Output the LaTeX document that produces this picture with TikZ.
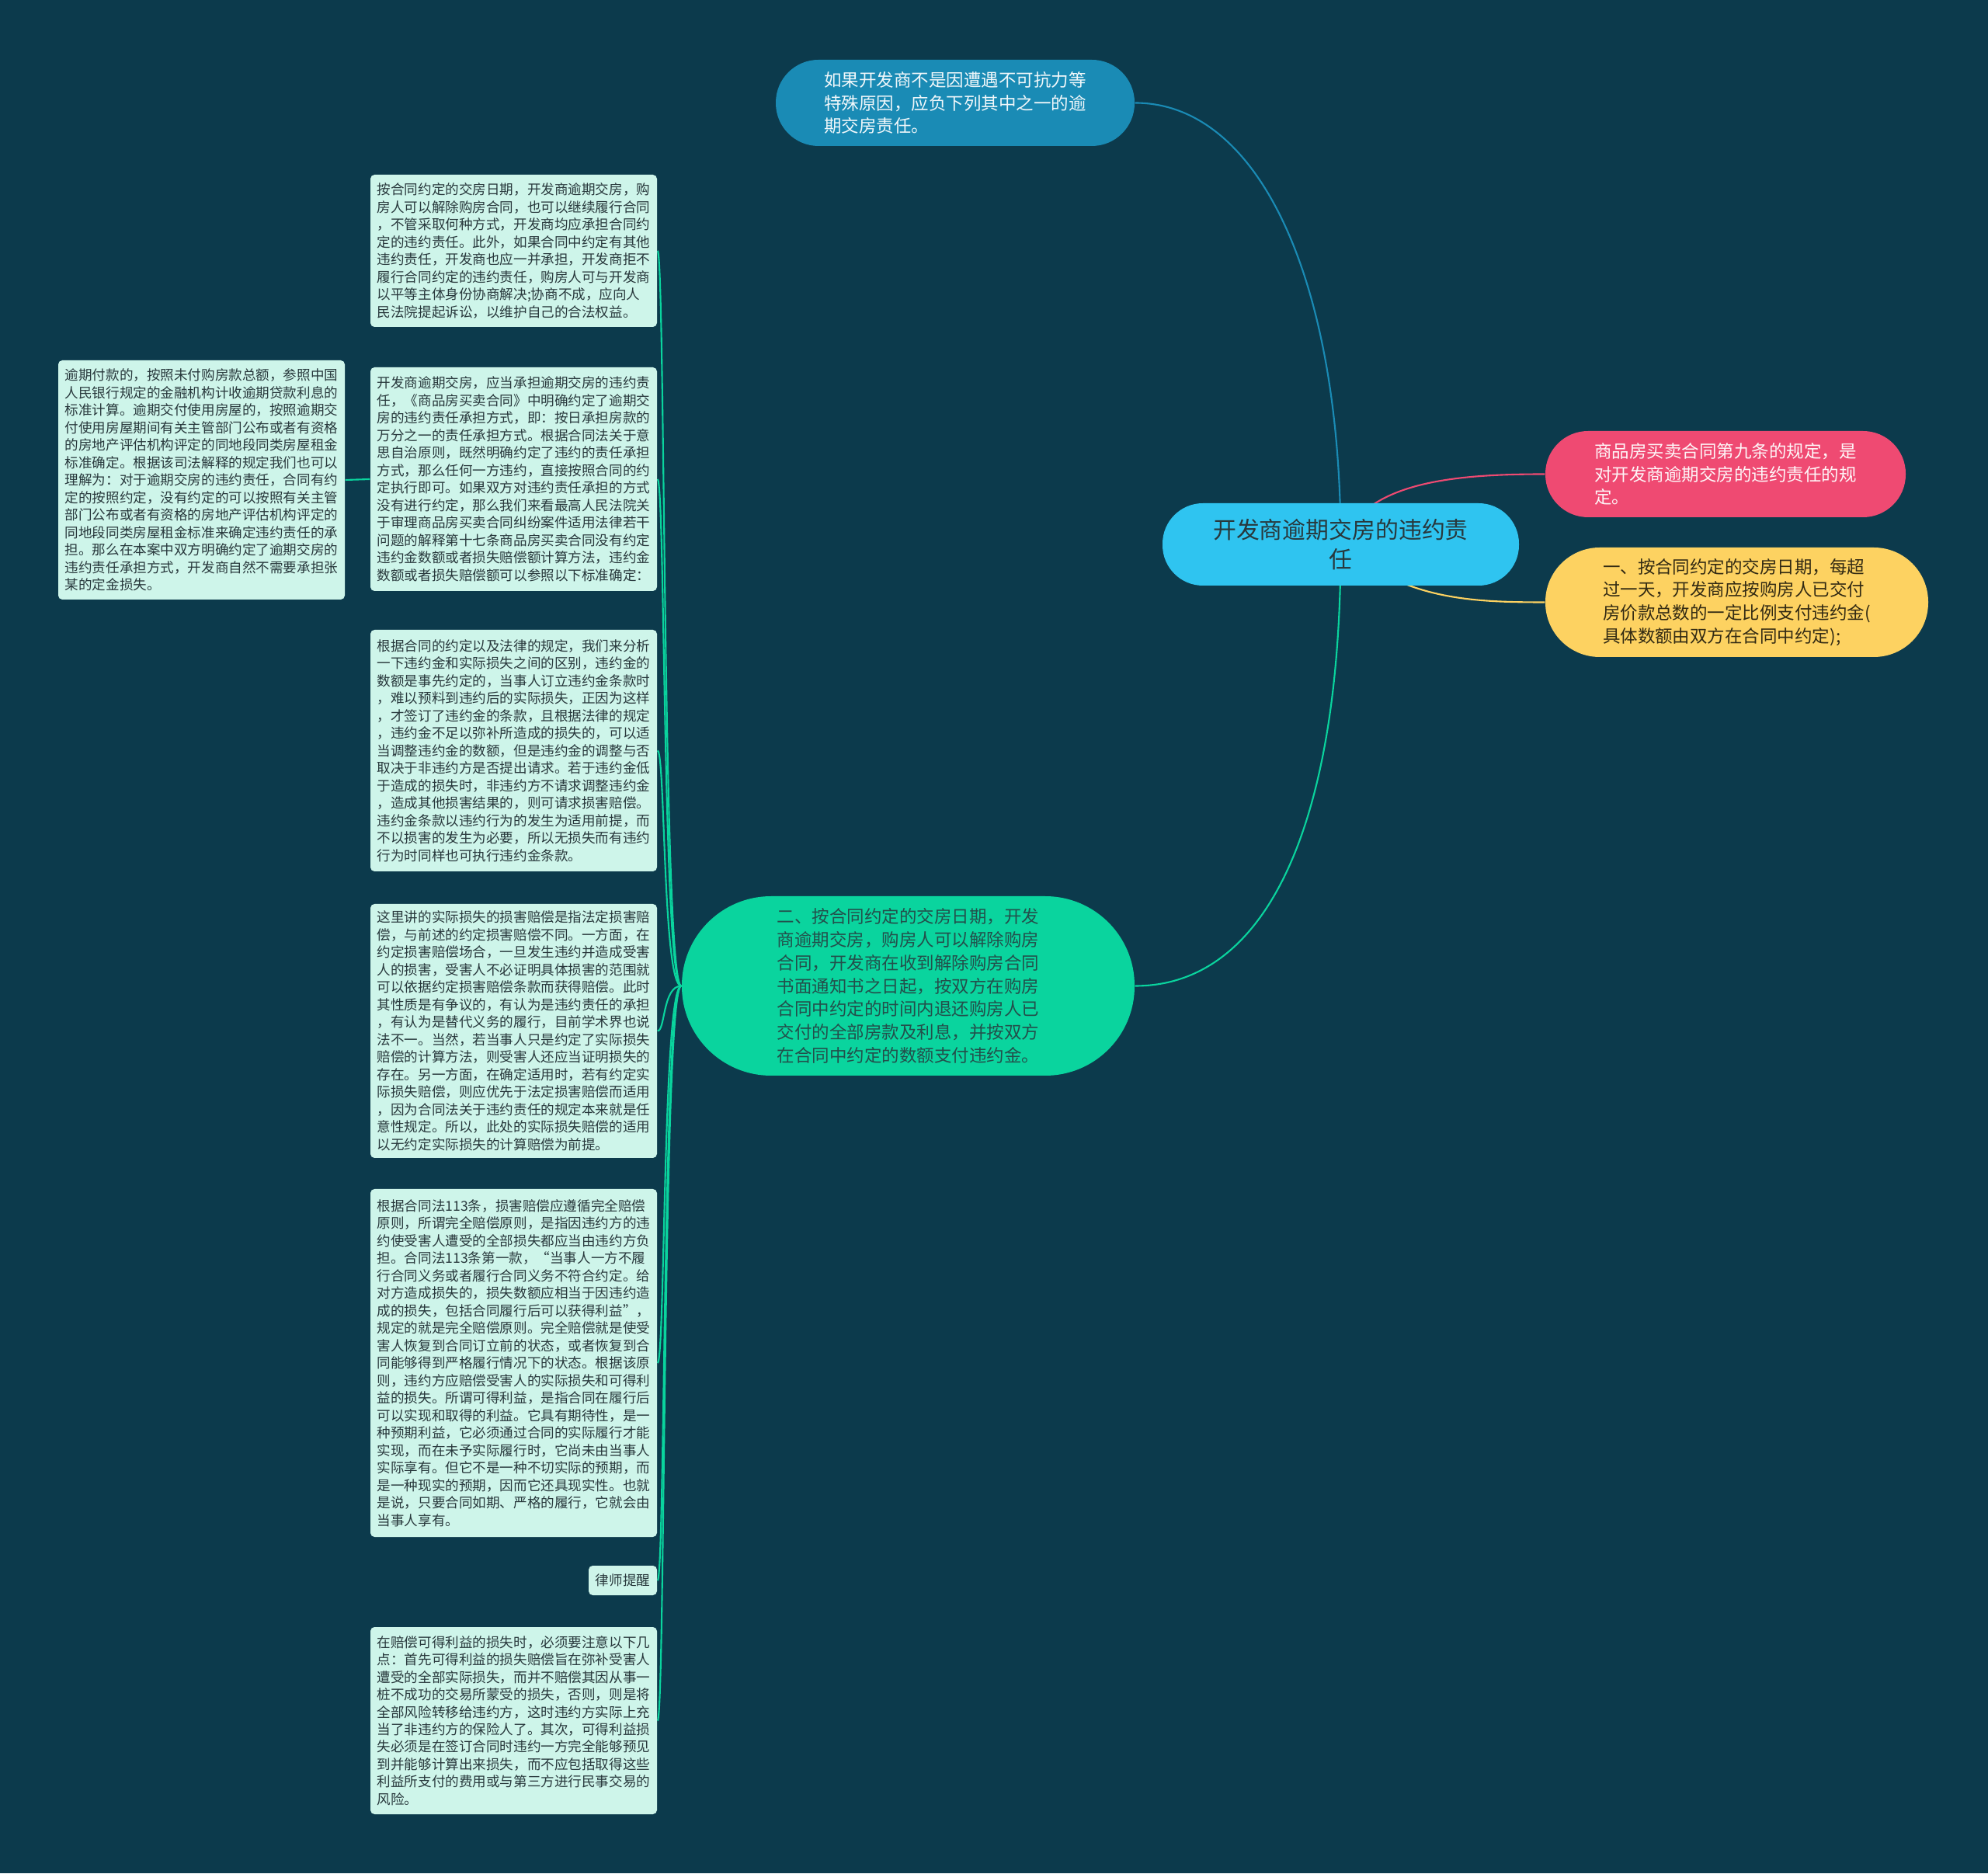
\documentclass[tikz,border=0pt]{standalone}
\usepackage{fontspec}
\setmainfont{Noto Sans CJK SC}
\usepackage{xcolor}
\usepackage{tikz}
\usetikzlibrary{backgrounds}

\definecolor{canvas}{RGB}{12,58,76}
\definecolor{topc}{RGB}{26,139,181}
\definecolor{rootc}{RGB}{47,196,240}
\definecolor{redc}{RGB}{239,74,114}
\definecolor{yelc}{RGB}{253,210,97}
\definecolor{grnc}{RGB}{10,212,158}
\definecolor{leafc}{RGB}{206,245,234}
\definecolor{inkc}{RGB}{40,56,60}

\begin{document}
\begin{tikzpicture}[
  pill/.style={fill=#1, align=left, inner sep=0pt, font=\fontsize{6.4}{8.5}\selectfont},
  leaf/.style={fill=leafc, text=inkc, rounded corners=1.5pt, align=left, inner sep=0pt, minimum width=3.69cm, font=\fontsize{5}{6.4}\selectfont},
  link/.style={draw=#1, line width=0.6pt},
  link/.default=grnc,
]
\useasboundingbox (0,0) rectangle (25.6,24.12);

% ---- root and first level ----
\node[pill=rootc, text=inkc, align=center, minimum width=4.59cm, minimum height=1.06cm, rounded corners=0.52cm, font=\fontsize{8.5}{10.8}\selectfont] (root) at (17.265,17.11) {开发商逾期交房的违约责\\任};
\node[pill=topc, text=white!94!topc, minimum width=4.62cm, minimum height=1.11cm, rounded corners=0.55cm] (rule) at (12.30,22.795) {如果开发商不是因遭遇不可抗力等\\特殊原因，应负下列其中之一的逾\\期交房责任。};
\node[pill=redc, text=white!95!redc, minimum width=4.64cm, minimum height=1.11cm, rounded corners=0.55cm] (art9) at (22.22,18.015) {商品房买卖合同第九条的规定，是\\对开发商逾期交房的违约责任的规\\定。};
\node[pill=yelc, text=black!80!yelc, minimum width=4.93cm, minimum height=1.41cm, rounded corners=0.7cm] (pen) at (22.365,16.365) {一、按合同约定的交房日期，每超\\过一天，开发商应按购房人已交付\\房价款总数的一定比例支付违约金(\\具体数额由双方在合同中约定);};
\node[pill=grnc, text=inkc!85!grnc, minimum width=5.83cm, minimum height=2.31cm, rounded corners=1.15cm] (term) at (11.695,11.425) {二、按合同约定的交房日期，开发\\商逾期交房，购房人可以解除购房\\合同，开发商在收到解除购房合同\\书面通知书之日起，按双方在购房\\合同中约定的时间内退还购房人已\\交付的全部房款及利息，并按双方\\在合同中约定的数额支付违约金。};

% ---- leaves of the second item ----
\node[leaf, minimum height=1.96cm] (sue) at (6.615,20.89) {按合同约定的交房日期，开发商逾期交房，购\\房人可以解除购房合同，也可以继续履行合同\\，不管采取何种方式，开发商均应承担合同约\\定的违约责任。此外，如果合同中约定有其他\\违约责任，开发商也应一并承担，开发商拒不\\履行合同约定的违约责任，购房人可与开发商\\以平等主体身份协商解决;协商不成，应向人\\民法院提起诉讼，以维护自己的合法权益。};
\node[leaf, minimum height=2.88cm] (std) at (6.615,17.95) {开发商逾期交房，应当承担逾期交房的违约责\\任，《商品房买卖合同》中明确约定了逾期交\\房的违约责任承担方式，即：按日承担房款的\\万分之一的责任承担方式。根据合同法关于意\\思自治原则，既然明确约定了违约的责任承担\\方式，那么任何一方违约，直接按照合同的约\\定执行即可。如果双方对违约责任承担的方式\\没有进行约定，那么我们来看最高人民法院关\\于审理商品房买卖合同纠纷案件适用法律若干\\问题的解释第十七条商品房买卖合同没有约定\\违约金数额或者损失赔偿额计算方法，违约金\\数额或者损失赔偿额可以参照以下标准确定：};
\node[leaf, minimum height=3.08cm] (rate) at (2.595,17.94) {逾期付款的，按照未付购房款总额，参照中国\\人民银行规定的金融机构计收逾期贷款利息的\\标准计算。逾期交付使用房屋的，按照逾期交\\付使用房屋期间有关主管部门公布或者有资格\\的房地产评估机构评定的同地段同类房屋租金\\标准确定。根据该司法解释的规定我们也可以\\理解为：对于逾期交房的违约责任，合同有约\\定的按照约定，没有约定的可以按照有关主管\\部门公布或者有资格的房地产评估机构评定的\\同地段同类房屋租金标准来确定违约责任的承\\担。那么在本案中双方明确约定了逾期交房的\\违约责任承担方式，开发商自然不需要承担张\\某的定金损失。};
\node[leaf, minimum height=3.11cm] (liq) at (6.615,14.455) {根据合同的约定以及法律的规定，我们来分析\\一下违约金和实际损失之间的区别，违约金的\\数额是事先约定的，当事人订立违约金条款时\\，难以预料到违约后的实际损失，正因为这样\\，才签订了违约金的条款，且根据法律的规定\\，违约金不足以弥补所造成的损失的，可以适\\当调整违约金的数额，但是违约金的调整与否\\取决于非违约方是否提出请求。若于违约金低\\于造成的损失时，非违约方不请求调整违约金\\，造成其他损害结果的，则可请求损害赔偿。\\违约金条款以违约行为的发生为适用前提，而\\不以损害的发生为必要，所以无损失而有违约\\行为时同样也可执行违约金条款。};
\node[leaf, minimum height=3.27cm] (actual) at (6.615,10.845) {这里讲的实际损失的损害赔偿是指法定损害赔\\偿，与前述的约定损害赔偿不同。一方面，在\\约定损害赔偿场合，一旦发生违约并造成受害\\人的损害，受害人不必证明具体损害的范围就\\可以依据约定损害赔偿条款而获得赔偿。此时\\其性质是有争议的，有认为是违约责任的承担\\，有认为是替代义务的履行，目前学术界也说\\法不一。当然，若当事人只是约定了实际损失\\赔偿的计算方法，则受害人还应当证明损失的\\存在。另一方面，在确定适用时，若有约定实\\际损失赔偿，则应优先于法定损害赔偿而适用\\，因为合同法关于违约责任的规定本来就是任\\意性规定。所以，此处的实际损失赔偿的适用\\以无约定实际损失的计算赔偿为前提。};
\node[leaf, minimum height=4.48cm] (full) at (6.615,6.57) {根据合同法113条，损害赔偿应遵循完全赔偿\\原则，所谓完全赔偿原则，是指因违约方的违\\约使受害人遭受的全部损失都应当由违约方负\\担。合同法113条第一款，“当事人一方不履\\行合同义务或者履行合同义务不符合约定。给\\对方造成损失的，损失数额应相当于因违约造\\成的损失，包括合同履行后可以获得利益”，\\规定的就是完全赔偿原则。完全赔偿就是使受\\害人恢复到合同订立前的状态，或者恢复到合\\同能够得到严格履行情况下的状态。根据该原\\则，违约方应赔偿受害人的实际损失和可得利\\益的损失。所谓可得利益，是指合同在履行后\\可以实现和取得的利益。它具有期待性，是一\\种预期利益，它必须通过合同的实际履行才能\\实现，而在未予实际履行时，它尚未由当事人\\实际享有。但它不是一种不切实际的预期，而\\是一种现实的预期，因而它还具现实性。也就\\是说，只要合同如期、严格的履行，它就会由\\当事人享有。};
\node[leaf, minimum width=0.88cm, minimum height=0.38cm] (tip) at (8.02,3.77) {律师提醒};
\node[leaf, minimum height=2.41cm] (gain) at (6.615,1.965) {在赔偿可得利益的损失时，必须要注意以下几\\点：首先可得利益的损失赔偿旨在弥补受害人\\遭受的全部实际损失，而并不赔偿其因从事一\\桩不成功的交易所蒙受的损失，否则，则是将\\全部风险转移给违约方，这时违约方实际上充\\当了非违约方的保险人了。其次，可得利益损\\失必须是在签订合同时违约一方完全能够预见\\到并能够计算出来损失，而不应包括取得这些\\利益所支付的费用或与第三方进行民事交易的\\风险。};

% ---- links, behind the nodes ----
\begin{scope}[on background layer]
\fill[canvas] (0,0) rectangle (25.6,24.12);
\draw[link=topc] (root.center) .. controls +(0,3.4) and +(1.6,0) .. (rule.east);
\draw[link=redc] (root.center) .. controls +(0.3,0.8) and +(-1.2,0) .. (art9.west);
\draw[link=yelc] (root.center) .. controls +(0.8,-0.7) and +(-1.0,0) .. (pen.west);
\draw[link] (root.center) .. controls +(0,-3.6) and +(1.7,0) .. (term.east);
\foreach \n in {sue, std, liq, actual, full, tip, gain}
  \draw[link] (term.west) .. controls +(-0.24,0) and +(0.1,0) .. (\n.east);
\draw[link] (std.west) -- (rate.east);
\end{scope}
\end{tikzpicture}
\end{document}
